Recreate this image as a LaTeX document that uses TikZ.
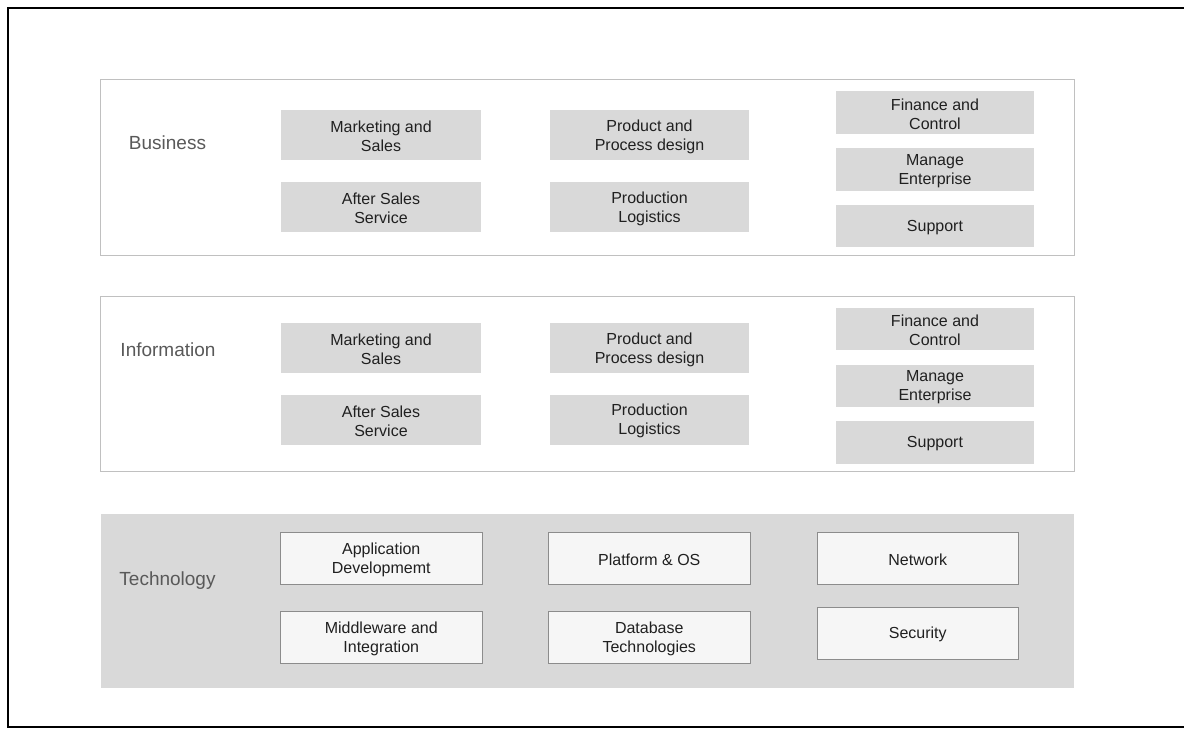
\documentclass[tikz,border=0pt]{standalone}
\usepackage{fontspec}
\setmainfont{Liberation Sans}
\definecolor{boxgray}{HTML}{D9D9D9}
\definecolor{layerline}{HTML}{C0C0C0}
\definecolor{techfill}{HTML}{F6F6F6}
\definecolor{techline}{HTML}{8C8C8C}
\definecolor{labelgray}{HTML}{595959}
\definecolor{textdark}{HTML}{202020}
\begin{document}
\begin{tikzpicture}[x=1pt,y=-1pt,
  layer/.style={draw=layerline,line width=1pt,fill=white},
  techlayer/.style={fill=boxgray,draw=none},
  layerlabel/.style={text=labelgray,font=\fontsize{19}{22}\selectfont,anchor=center,yshift=-1pt},
  cell/.style={fill=boxgray,draw=none},
  techcell/.style={fill=techfill,draw=techline,line width=1pt},
  celltext/.style={text=textdark,align=center,font=\fontsize{16}{19}\selectfont,
    inner sep=0pt,yshift=-1.5pt}]
\useasboundingbox (0,0) rectangle (1184,729);
\begin{scope}
\clip (0,0) rectangle (1184,729);
\draw[line width=2pt] (8,8) rectangle (1200,727);
\end{scope}

% Business layer
\draw[layer] (100.5,79.5) rectangle (1074.5,255.5);
\node[layerlabel] (blab) at (167.5,142) {Business};
\path[cell] (281,110) rectangle (481,160) node[midway,celltext] (b11) {Marketing and\\Sales};
\path[cell] (281,182) rectangle (481,232) node[midway,celltext] (b21) {After Sales\\Service};
\path[cell] (550,110) rectangle (749,160) node[midway,celltext] (b12) {Product and\\Process design};
\path[cell] (550,182) rectangle (749,232) node[midway,celltext] (b22) {Production\\Logistics};
\path[cell] (836,91) rectangle (1034,134) node[midway,celltext] (b13) {Finance and\\Control};
\path[cell] (836,148) rectangle (1034,191) node[midway,celltext] (b23) {Manage\\Enterprise};
\path[cell] (836,205) rectangle (1034,247) node[midway,celltext] (b33) {Support};

% Information layer
\draw[layer] (100.5,296) rectangle (1074.5,471);
\node[layerlabel] (ilab) at (168,348.5) {Information};
\path[cell] (281,323) rectangle (481,373) node[midway,celltext] (i11) {Marketing and\\Sales};
\path[cell] (281,395) rectangle (481,444.5) node[midway,celltext] (i21) {After Sales\\Service};
\path[cell] (550,323) rectangle (749,373) node[midway,celltext] (i12) {Product and\\Process design};
\path[cell] (550,395) rectangle (749,444.5) node[midway,celltext] (i22) {Production\\Logistics};
\path[cell] (836,307.5) rectangle (1034,350) node[midway,celltext] (i13) {Finance and\\Control};
\path[cell] (836,364.5) rectangle (1034,407) node[midway,celltext] (i23) {Manage\\Enterprise};
\path[cell] (836,421) rectangle (1034,463.5) node[midway,celltext] (i33) {Support};

% Technology layer
\path[techlayer] (101,513.5) rectangle (1073.5,688);
\node[layerlabel] (tlab) at (167.5,580) {Technology};
\path[techcell] (280.5,532.5) rectangle (482,584.5) node[midway,celltext] (t11) {Application\\Developmemt};
\path[techcell] (280.5,611.5) rectangle (482,663) node[midway,celltext] (t21) {Middleware and\\Integration};
\path[techcell] (548.5,532.5) rectangle (750,584.5) node[midway,celltext] (t12) {Platform \& OS};
\path[techcell] (548.5,611.5) rectangle (750,663) node[midway,celltext] (t22) {Database\\Technologies};
\path[techcell] (817,532.5) rectangle (1018.5,584.5) node[midway,celltext] (t13) {Network};
\path[techcell] (817,607.5) rectangle (1018.5,659) node[midway,celltext] (t23) {Security};
\end{tikzpicture}
\end{document}
